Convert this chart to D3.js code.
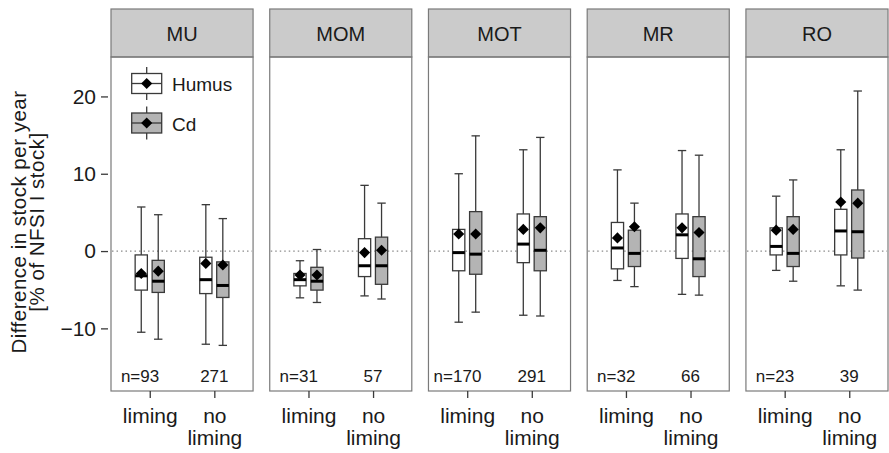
<!DOCTYPE html>
<html>
<head>
<meta charset="utf-8">
<script src="https://cdn.jsdelivr.net/npm/d3@7"></script>
<style>
    body { margin: 0; background: #fff; }
    text { font-family: "Liberation Sans", Arial, sans-serif; fill: #1a1a1a; }
</style>
</head>
<body>
<svg id="chart" width="889" height="453"></svg>
<script>
    // data: order is MU liming, MU no liming, MOM liming, ...
    var regions = ["MU", "MOM", "MOT", "MR", "RO"],
        groups = ["liming", "no liming"],
        series = ["Humus", "Cd"],
        nCounts = [93, 271, 31, 57, 170, 291, 32, 66, 23, 39],
        yTicks = [-10, 0, 10, 20];

    var humusMax  = [5.7, 6.0, -1.25, 8.5, 10.0, 13.1, 10.5, 13.0, 7.1, 13.1],
        humusQ3   = [-0.5, -0.8, -2.9, 1.6, 2.8, 4.8, 3.7, 4.8, 3.0, 5.4],
        humusMed  = [-3.2, -3.7, -3.7, -1.9, -0.2, 0.9, 0.4, 2.1, 0.6, 2.6],
        humusQ1   = [-5.05, -5.5, -4.5, -3.3, -2.55, -1.5, -2.3, -0.95, -0.5, -0.5],
        humusMin  = [-10.5, -12.05, -6.05, -5.8, -9.2, -8.3, -3.8, -5.6, -2.5, -4.5],
        humusMean = [-2.9, -1.6, -3.1, -0.2, 2.2, 2.8, 1.7, 3.0, 2.7, 6.35];

    var cdMax  = [4.7, 4.2, 0.2, 6.2, 14.9, 14.7, 6.2, 12.4, 9.2, 20.7],
        cdQ3   = [-1.2, -1.4, -2.1, 1.8, 5.1, 4.45, 2.7, 4.45, 4.45, 7.9],
        cdMed  = [-3.9, -4.45, -3.9, -1.9, -0.4, 0.1, -0.3, -1.0, -0.3, 2.5],
        cdQ1   = [-5.35, -6.0, -5.05, -4.3, -3.0, -2.55, -2.0, -3.3, -2.0, -0.9],
        cdMin  = [-11.4, -12.2, -6.65, -6.2, -7.9, -8.4, -4.6, -5.7, -3.9, -5.05],
        cdMean = [-2.6, -1.8, -3.1, 0.1, 2.2, 3.0, 3.15, 2.4, 2.8, 6.2];

    var fills = {Humus: "#ffffff", Cd: "#b4b4b4"};

    // build one row per box
    var rows = [];
    regions.forEach(function (r, i) {
        groups.forEach(function (g, j) {
            var k = i * 2 + j;
            rows.push({region: r, group: g, pos: j + 1, series: "Humus",
                min: humusMin[k], q1: humusQ1[k], med: humusMed[k], q3: humusQ3[k], max: humusMax[k], mean: humusMean[k]});
            rows.push({region: r, group: g, pos: j + 1, series: "Cd",
                min: cdMin[k], q1: cdQ1[k], med: cdMed[k], q3: cdQ3[k], max: cdMax[k], mean: cdMean[k]});
        });
    });

    var plotTop = 57, plotBottom = 391, stripTop = 9;

    var panel = d3.scaleBand().domain(regions).range([111, 888]).paddingInner(0.105);
    var bw = panel.bandwidth();
    var x = d3.scaleLinear().domain([0.4, 2.6]).range([0, bw]);
    var off = d3.scaleBand().domain(series).range([-14.6, 14.6]).paddingInner(0.28);
    var boxW = off.bandwidth();
    var y = d3.scaleLinear().domain([-18.1, 25.1]).range([plotBottom, plotTop]);

    var svg = d3.select("#chart");

    var panels = svg.selectAll(".panel")
        .data(regions)
        .enter()
        .append("g")
        .attr("class", "panel")
        .attr("transform", function (d) { return "translate(" + panel(d) + ",0)"; });

    // strip
    panels.append("rect")
        .attr("x", 0).attr("y", stripTop)
        .attr("width", bw).attr("height", plotTop - stripTop)
        .attr("fill", "#cbcbcb").attr("stroke", "#7a7a7a").attr("stroke-width", 1.2);
    panels.append("text")
        .attr("x", bw / 2).attr("y", 41)
        .attr("text-anchor", "middle")
        .attr("font-size", 20)
        .text(function (d) { return d; });

    // panel frame
    panels.append("rect")
        .attr("x", 0).attr("y", plotTop)
        .attr("width", bw).attr("height", plotBottom - plotTop)
        .attr("fill", "none").attr("stroke", "#7a7a7a").attr("stroke-width", 1.2);

    // zero line
    panels.append("line")
        .attr("x1", 1).attr("x2", bw - 1)
        .attr("y1", y(0)).attr("y2", y(0))
        .attr("stroke", "#8a8a8a").attr("stroke-width", 1.2)
        .attr("stroke-dasharray", "1.5,3");

    // boxes
    panels.each(function (r) {
        var g = d3.select(this);
        var data = rows.filter(function (d) { return d.region === r; });
        var bx = g.selectAll(".box")
            .data(data)
            .enter()
            .append("g")
            .attr("class", "box")
            .attr("transform", function (d) { return "translate(" + (x(d.pos) + off(d.series) + boxW / 2) + ",0)"; });

        bx.append("line")
            .attr("x1", 0).attr("x2", 0)
            .attr("y1", function (d) { return y(d.max); })
            .attr("y2", function (d) { return y(d.min); })
            .attr("stroke", "#3a3a3a").attr("stroke-width", 1.3);
        bx.append("line")
            .attr("x1", -4.2).attr("x2", 4.2)
            .attr("y1", function (d) { return y(d.max); })
            .attr("y2", function (d) { return y(d.max); })
            .attr("stroke", "#3a3a3a").attr("stroke-width", 1.3);
        bx.append("line")
            .attr("x1", -4.2).attr("x2", 4.2)
            .attr("y1", function (d) { return y(d.min); })
            .attr("y2", function (d) { return y(d.min); })
            .attr("stroke", "#3a3a3a").attr("stroke-width", 1.3);
        bx.append("rect")
            .attr("x", -boxW / 2).attr("width", boxW)
            .attr("y", function (d) { return y(d.q3); })
            .attr("height", function (d) { return y(d.q1) - y(d.q3); })
            .attr("fill", function (d) { return fills[d.series]; })
            .attr("stroke", "#3a3a3a").attr("stroke-width", 1.3);
        bx.append("line")
            .attr("x1", -boxW / 2).attr("x2", boxW / 2)
            .attr("y1", function (d) { return y(d.med); })
            .attr("y2", function (d) { return y(d.med); })
            .attr("stroke", "#000").attr("stroke-width", 3);
        bx.append("path")
            .attr("d", d3.symbol(d3.symbolSquare, 62))
            .attr("transform", function (d) { return "translate(0," + y(d.mean) + ") rotate(45)"; })
            .attr("fill", "#000");
    });

    // n labels: number centred on the group, "n=" in front of the first one
    panels.each(function (r, i) {
        var g = d3.select(this);
        groups.forEach(function (gr, j) {
            var t = g.append("text")
                .attr("x", x(j + 1)).attr("y", 382)
                .attr("text-anchor", "middle")
                .attr("font-size", 17)
                .text(nCounts[i * 2 + j]);
            if (j === 0) {
                var w = t.node().getComputedTextLength();
                g.append("text")
                    .attr("x", x(j + 1) - w / 2).attr("y", 382)
                    .attr("text-anchor", "end")
                    .attr("font-size", 17)
                    .text("n=");
            }
        });
    });

    // bottom axes
    panels.append("g")
        .attr("transform", "translate(0," + plotBottom + ")")
        .each(function () {
            var ax = d3.select(this).call(d3.axisBottom(x).tickValues([1, 2]).tickSize(7).tickFormat(""));
            ax.select(".domain").remove();
            ax.selectAll("line").attr("stroke", "#3a3a3a").attr("stroke-width", 1.3);
            ax.selectAll(".tick").each(function (d) {
                var t = d3.select(this).select("text")
                    .attr("y", 32).attr("dy", 0)
                    .attr("font-size", 21)
                    .attr("fill", "#1a1a1a")
                    .attr("font-family", "Liberation Sans, Arial, sans-serif");
                var words = groups[d - 1].split(" ");
                words.forEach(function (w, k) {
                    t.append("tspan").attr("x", 0).attr("y", 32 + k * 22).text(w);
                });
            });
        });

    // left axis
    var yAxis = svg.append("g")
        .attr("transform", "translate(108,0)")
        .call(d3.axisLeft(y).tickValues(yTicks).tickSize(7).tickPadding(5));
    yAxis.select(".domain").remove();
    yAxis.selectAll("line").attr("stroke", "#3a3a3a").attr("stroke-width", 1.3);
    yAxis.selectAll("text")
        .attr("font-size", 21)
        .attr("fill", "#1a1a1a")
        .attr("font-family", "Liberation Sans, Arial, sans-serif");

    // y title
    var yTitle = svg.append("text")
        .attr("transform", "translate(0," + ((plotTop + plotBottom) / 2 - 2) + ") rotate(-90)")
        .attr("text-anchor", "middle")
        .attr("font-size", 20.5)
        .attr("letter-spacing", 0.5);
    yTitle.append("tspan").attr("x", 0).attr("y", 26).text("Difference in stock per year");
    yTitle.append("tspan").attr("x", 0).attr("y", 43.5).text("[% of NFSI I stock]");

    // legend inside first panel
    var legend = svg.append("g")
        .attr("transform", "translate(" + panel(regions[0]) + ",0)");
    var items = legend.selectAll(".item")
        .data(series)
        .enter()
        .append("g")
        .attr("class", "item")
        .attr("transform", function (d, i) { return "translate(0," + (83.5 + i * 39.5) + ")"; });
    items.append("line")
        .attr("x1", 35.7).attr("x2", 35.7).attr("y1", -16.5).attr("y2", 16.5)
        .attr("stroke", "#3a3a3a").attr("stroke-width", 1.3);
    items.append("rect")
        .attr("x", 20.7).attr("y", -10).attr("width", 30).attr("height", 20)
        .attr("fill", function (d) { return fills[d]; })
        .attr("stroke", "#3a3a3a").attr("stroke-width", 1.3);
    items.append("line")
        .attr("x1", 20.7).attr("x2", 50.7).attr("y1", 0).attr("y2", 0)
        .attr("stroke", "#3a3a3a").attr("stroke-width", 1.3);
    items.append("path")
        .attr("d", d3.symbol(d3.symbolSquare, 62))
        .attr("transform", "translate(35.7,0) rotate(45)")
        .attr("fill", "#000");
    items.append("text")
        .attr("x", 61).attr("y", 7.5)
        .attr("font-size", 19)
        .text(function (d) { return d; });
</script>
</body>
</html>
